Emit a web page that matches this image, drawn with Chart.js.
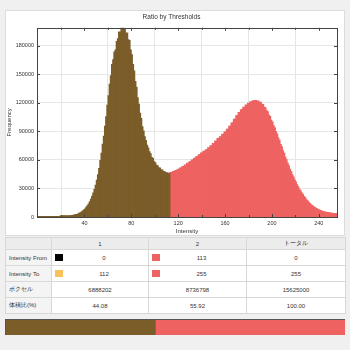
<!DOCTYPE html>
<html>
<head>
<meta charset="utf-8">
<script src="https://cdn.jsdelivr.net/npm/chart.js@4/dist/chart.umd.min.js"></script>
<style>
  html, body { margin: 0; padding: 0; }
  body { width: 350px; height: 350px; background: #f0f0f0; position: relative; overflow: hidden;
         font-family: "Liberation Sans", Arial, sans-serif; }
  #panel { position: absolute; left: 5px; top: 10px; width: 338px; height: 224px;
           background: #fff; border: 1px solid #dcdcdc; }
  #panel canvas { display: block; }
  #ratio-table { position: absolute; left: 5px; top: 237px; width: 340px; border-collapse: collapse;
                 table-layout: fixed; font-size: 6px; color: #333; background: #fff; }
  #ratio-table td, #ratio-table th { border: 1px solid #d8d8d8; padding: 0 3px; height: 15px; color: #333;
                                     text-align: center; font-weight: normal; white-space: nowrap; }
  #ratio-table th { background: #ececec; height: 11px; }
  #ratio-table td.label { text-align: left; background: #f4f4f4; }
  .cell { display: flex; align-items: center; }
  .cell .sw { width: 8px; height: 7px; flex: none; }
  .cell .val { flex: 1; text-align: center; }
  #bar-box { position: absolute; left: 5px; top: 319px; width: 340px; height: 16px;
             border-top: 1px solid #555; border-left: 1px solid #555; box-sizing: border-box; background: #fff; }
  #bar-box canvas { display: block; }
</style>
</head>
<body>
<div id="panel"><canvas id="hist" width="338" height="224"></canvas></div>
<table id="ratio-table"></table>
<div id="bar-box"><canvas id="ratio-bar" width="339" height="15"></canvas></div>
<script>
const brown = '#7b5d2a';
const red = '#ee6262';

// histogram bins 0..112 (first threshold group)
const brownStart = 0;
const brownCounts = [
  0, 0, 0, 0, 0, 0, 0, 0, 0, 0, 0, 0, 0, 0, 0, 0, 0, 0, 0, 0,
  100, 150, 200, 250, 300, 380, 450, 520, 620, 800,
  1000, 1200, 1500, 1800, 2200, 2700, 3300, 4000, 4800, 5700,
  6800, 8000, 9600, 11200, 13200, 15500, 18200, 21200, 24600, 28500,
  33000, 38000, 44000, 50500, 59000, 66500, 76000, 84500, 95000, 105000,
  117000, 127000, 139000, 148000, 160000, 165000, 173000, 175000, 184000, 187000,
  194000, 193000, 199000, 195000, 198000, 192000, 193000, 186000, 185000, 175000,
  170000, 160000, 153000, 142000, 136000, 125000, 118000, 108500, 103000, 94500,
  90000, 84000, 80000, 75000, 72000, 68000, 66000, 62000, 61000, 57500,
  56500, 54000, 53500, 51000, 51000, 49000, 49000, 47000, 47000, 45500,
  46000, 44500, 45000
];

// histogram bins 113..255 (second threshold group)
const redStart = 113;
const redCounts = [
  46000, 46300, 45800, 47200, 46800, 48300, 47900,
  49600, 49300, 51000, 50800, 52600, 52400, 54200, 54000, 55900, 55800,
  57700, 57600, 59500, 59400, 61300, 61200, 63100, 63000, 64900, 64800,
  66700, 66500, 68500, 68200, 70300, 70000, 72300, 71900, 74500, 74000,
  76900, 76300, 79400, 78800, 82000, 81200, 83800, 83700, 86400, 86300,
  89000, 88900, 91800, 91800, 94900, 95000, 98400, 98600, 102200, 102400,
  106000, 106000, 109500, 109300, 112400, 112000, 115000, 114600, 117300, 116800,
  119200, 118600, 120700, 120000, 121700, 120800, 122100, 120900, 121600, 119900,
  120200, 118000, 117800, 115000, 114400, 111200, 110200, 106600, 105200, 101300,
  99500, 95400, 93400, 89200, 86900, 82600, 80100, 75800, 73300, 69100,
  66500, 62400, 59800, 55900, 53400, 49700, 47300, 43900, 41600, 38400,
  36300, 33400, 31400, 28700, 27000, 24700, 23100, 21000, 19600, 17700,
  16500, 14900, 13800, 12400, 11500, 10300, 9600, 8700, 8100, 7300,
  6800, 6200, 5800, 5300, 5000, 4600, 4400, 4100, 3900, 3700,
  3500, 3300, 3100, 3000, 2900, 2800
];

const xTickValues = [40, 80, 120, 160, 200, 240];
const xMinorTicks = [20, 60, 100, 140, 180, 220];
const yTickValues = [0, 30000, 60000, 90000, 120000, 150000, 180000];

// table data
const groupLabels = ['1', '2', 'トータル'];
const rowLabels = ['Intensity From', 'Intensity To', 'ボクセル', '体積比(%)'];
const intensityFrom = [0, 113, 0];
const intensityTo = [112, 255, 255];
const fromColors = ['#000000', red, null];
const toColors = ['#f7c25a', red, null];
const voxelCounts = [6888202, 8736798, 15625000];
const volumeRatio = ['44.08', '55.92', '100.00'];

// ---- table ----
const table = document.getElementById('ratio-table');
let html = '<colgroup><col style="width:46px"><col style="width:97px"><col style="width:98px"><col style="width:99px"></colgroup>';
html += '<tr><th></th>' + groupLabels.map(g => `<th>${g}</th>`).join('') + '</tr>';
const swatchCell = (val, color) => color
  ? `<td><div class="cell"><span class="sw" style="background:${color}"></span><span class="val">${val}</span></div></td>`
  : `<td>${val}</td>`;
html += `<tr><td class="label">${rowLabels[0]}</td>` + intensityFrom.map((v, i) => swatchCell(v, fromColors[i])).join('') + '</tr>';
html += `<tr><td class="label">${rowLabels[1]}</td>` + intensityTo.map((v, i) => swatchCell(v, toColors[i])).join('') + '</tr>';
html += `<tr><td class="label">${rowLabels[2]}</td>` + voxelCounts.map(v => `<td>${v}</td>`).join('') + '</tr>';
html += `<tr><td class="label">${rowLabels[3]}</td>` + volumeRatio.map(v => `<td>${v}</td>`).join('') + '</tr>';
table.innerHTML = html;

// ---- histogram ----
const tickFont = { family: '"Liberation Sans", Arial, sans-serif', size: 5.5 };

// frame around the plot with small inward ticks
const framePlugin = {
  id: 'frame',
  afterDraw(chart) {
    const { ctx, chartArea: a, scales } = chart;
    ctx.save();
    ctx.strokeStyle = '#444';
    ctx.lineWidth = 1;
    ctx.strokeRect(Math.round(a.left) + 0.5, Math.round(a.top) + 0.5,
                   Math.round(a.right - a.left), Math.round(a.bottom - a.top));
    ctx.beginPath();
    const tickX = (v, len) => {
      const px = Math.round(scales.x.getPixelForValue(v)) + 0.5;
      ctx.moveTo(px, a.bottom); ctx.lineTo(px, a.bottom - len);
      ctx.moveTo(px, a.top); ctx.lineTo(px, a.top + len);
    };
    xTickValues.forEach(v => tickX(v, 3));
    xMinorTicks.forEach(v => tickX(v, 2));
    yTickValues.forEach(v => {
      const py = Math.round(scales.y.getPixelForValue(v)) + 0.5;
      ctx.moveTo(a.left, py); ctx.lineTo(a.left + 3, py);
      ctx.moveTo(a.right, py); ctx.lineTo(a.right - 3, py);
    });
    ctx.stroke();
    ctx.restore();
  }
};

new Chart(document.getElementById('hist'), {
  type: 'bar',
  data: {
    datasets: [{
      label: '1',
      data: brownCounts.map((v, i) => ({ x: brownStart + i, y: v })),
      backgroundColor: brown
    }, {
      label: '2',
      data: redCounts.map((v, i) => ({ x: redStart + i, y: v })),
      backgroundColor: red
    }]
  },
  options: {
    responsive: false,
    animation: false,
    events: [],
    layout: { padding: { left: 0, right: 7, top: 0, bottom: 0 } },
    datasets: { bar: { barPercentage: 1, categoryPercentage: 1, grouped: false, borderWidth: 0, inflateAmount: 1 } },
    plugins: {
      legend: { display: false },
      tooltip: { enabled: false },
      title: {
        display: true,
        text: 'Ratio by Thresholds',
        color: '#333',
        font: { family: tickFont.family, size: 6.5, weight: 'normal' },
        padding: { top: 2, bottom: 7 }
      }
    },
    scales: {
      x: {
        type: 'linear',
        min: -0.5,
        max: 255.5,
        offset: false,
        afterBuildTicks: s => { s.ticks = xTickValues.map(value => ({ value })); },
        afterFit: s => { s.height = 18; },
        grid: { color: '#e6e6e6', drawTicks: false },
        border: { display: false },
        ticks: { font: tickFont, color: '#333', padding: 3, maxRotation: 0, callback: v => String(v) },
        title: { display: true, text: 'Intensity', color: '#333', font: { family: tickFont.family, size: 6 }, padding: 0 }
      },
      y: {
        min: 0,
        max: Math.max(...brownCounts, ...redCounts),
        afterBuildTicks: s => { s.ticks = yTickValues.map(value => ({ value })); },
        afterFit: s => { s.width = 31; },
        grid: { color: '#e6e6e6', drawTicks: false },
        border: { display: false },
        ticks: { font: tickFont, color: '#333', padding: 3, callback: v => String(v) },
        title: { display: true, text: 'Frequency', color: '#333', font: { family: tickFont.family, size: 6 }, padding: 0 }
      }
    }
  },
  plugins: [framePlugin]
});

// ---- ratio bar ----
new Chart(document.getElementById('ratio-bar'), {
  type: 'bar',
  data: {
    labels: ['ratio'],
    datasets: [
      { data: [parseFloat(volumeRatio[0])], backgroundColor: brown },
      { data: [parseFloat(volumeRatio[1])], backgroundColor: red }
    ]
  },
  options: {
    indexAxis: 'y',
    responsive: false,
    animation: false,
    events: [],
    layout: { padding: 0 },
    datasets: { bar: { barPercentage: 1, categoryPercentage: 1, borderWidth: 0 } },
    plugins: { legend: { display: false }, tooltip: { enabled: false } },
    scales: {
      x: { stacked: true, min: 0, max: 100, display: false },
      y: { stacked: true, display: false }
    }
  }
});
</script>
</body>
</html>
